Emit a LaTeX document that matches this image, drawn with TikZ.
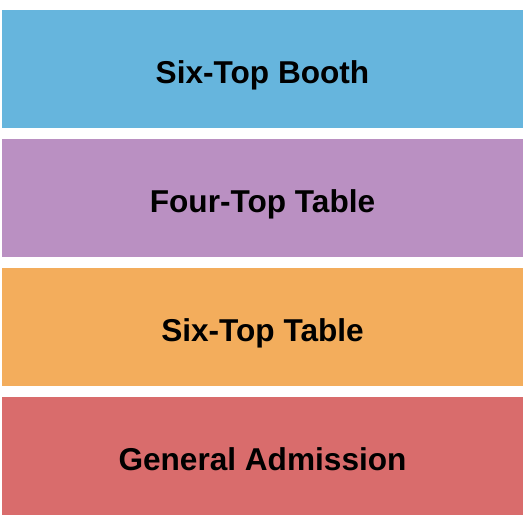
\documentclass[tikz,border=0pt]{standalone}
\usepackage{fontspec}
\setmainfont{Liberation Sans}
\definecolor{boothblue}{HTML}{66B5DD}
\definecolor{fourpurple}{HTML}{BA90C2}
\definecolor{sixorange}{HTML}{F3AD5C}
\definecolor{gared}{HTML}{D96C6C}

\begin{document}
\begin{tikzpicture}[x=1pt, y=-1pt,
        lbl/.style={anchor=base, inner sep=0pt, font=\fontsize{31.6}{32}\selectfont\bfseries}]
            \useasboundingbox (0, 0) rectangle (525, 525);
            \fill[white] (0, 0) rectangle (525, 525);
            \fill[boothblue] (2, 10) rectangle (523, 128);
            \fill[fourpurple] (2, 139) rectangle (523, 257);
            \fill[sixorange] (2, 268) rectangle (523, 386);
            \fill[gared] (2, 397) rectangle (523, 515);
            \node[lbl] (booth) at (262.5, 83) {Six-Top Booth};
            \node[lbl] (four) at (262.5, 212) {Four-Top Table};
            \node[lbl] (six) at (262.5, 341) {Six-Top Table};
            \node[lbl] (general) at (262.5, 470) {General Admission};
        \end{tikzpicture}
\end{document}
